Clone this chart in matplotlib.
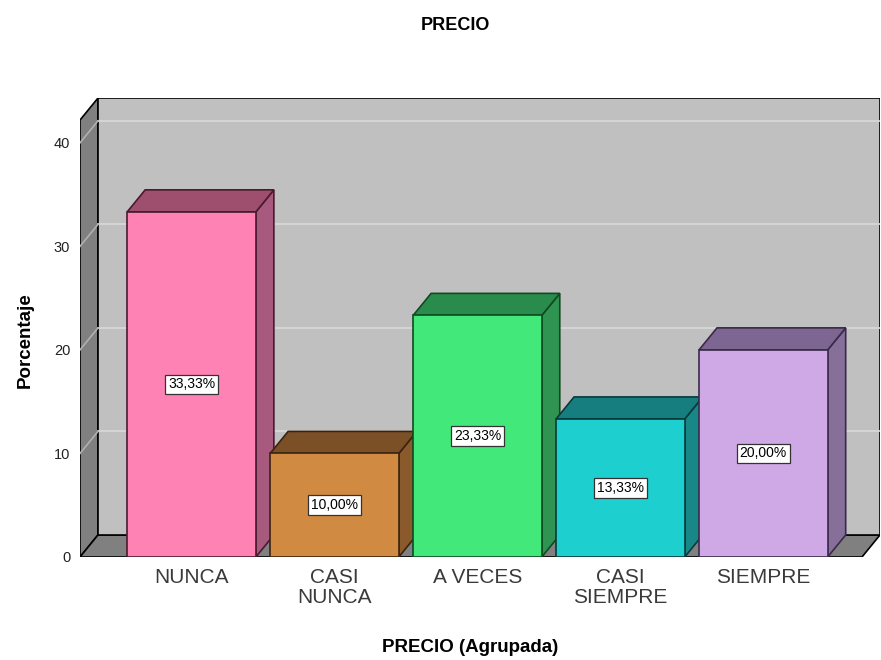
import matplotlib.pyplot as plt
from matplotlib.patches import Polygon

plt.rcParams['font.family'] = ['Liberation Sans', 'DejaVu Sans']

categories = ["NUNCA", "CASI\nNUNCA", "A VECES", "CASI\nSIEMPRE", "SIEMPRE"]
percentages = [33.33, 10.00, 23.33, 13.33, 20.00]
y_ticks = [0, 10, 20, 30, 40]

front_colors = ["#ff82b4", "#d08a42", "#42e87a", "#1ecfcf", "#cfa8e6"]
top_colors = ["#9e4f6d", "#7c5026", "#2a8c4c", "#167e7e", "#7e6692"]
side_colors = ["#a85a7e", "#8a5a2c", "#2f9352", "#188787", "#86709a"]
edge_colors = ["#4a1a30", "#3a2410", "#104a20", "#0a3a3a", "#3a2a4a"]

DX = 0.126   # depth offset in category units
DY = 2.13    # depth offset in value units
BAR_W = 0.9
X0, X1 = -0.78, 4.69
Y_TOP = 42.2


def draw_walls(ax):
    # left wall
    ax.add_patch(Polygon([(X0, 0), (X0, Y_TOP), (X0 + DX, Y_TOP + DY), (X0 + DX, DY)],
                         closed=True, fc="#808080", ec="black", lw=1.2, zorder=1))
    # floor
    ax.add_patch(Polygon([(X0, 0), (X1, 0), (X1 + DX, DY), (X0 + DX, DY)],
                         closed=True, fc="#808080", ec="black", lw=1.2, zorder=1))
    # back wall
    ax.add_patch(Polygon([(X0 + DX, DY), (X1 + DX, DY), (X1 + DX, Y_TOP + DY), (X0 + DX, Y_TOP + DY)],
                         closed=True, fc="#c0c0c0", ec="black", lw=1.2, zorder=1))
    for t in y_ticks[1:]:
        ax.plot([X0 + DX, X1 + DX], [t + DY, t + DY], color="#d9d9d9", lw=1.2, zorder=2)
        ax.plot([X0, X0 + DX], [t, t + DY], color="#b0b0b0", lw=1.2, zorder=2)


def draw_bars(ax):
    for i, v in enumerate(percentages):
        l, r = i - BAR_W / 2, i + BAR_W / 2
        z = 3 + i
        ec = edge_colors[i]
        ax.add_patch(Polygon([(r, 0), (r + DX, DY), (r + DX, v + DY), (r, v)],
                             closed=True, fc=side_colors[i], ec=ec, lw=1.2, zorder=z))
        ax.add_patch(Polygon([(l, v), (r, v), (r + DX, v + DY), (l + DX, v + DY)],
                             closed=True, fc=top_colors[i], ec=ec, lw=1.2, zorder=z))
        ax.add_patch(Polygon([(l, 0), (r, 0), (r, v), (l, v)],
                             closed=True, fc=front_colors[i], ec=ec, lw=1.2, zorder=z))
        ax.text(i, v / 2, f"{v:.2f}%".replace(".", ","), ha="center", va="center",
                fontsize=10, zorder=20,
                bbox=dict(boxstyle="square,pad=0.2", fc="white", ec="#333333", lw=0.9))


def main():
    fig = plt.figure(figsize=(8.81, 6.6), dpi=100)
    ax = fig.add_axes([80 / 881, 103 / 660, 800 / 881, 459 / 660])
    draw_walls(ax)
    draw_bars(ax)
    ax.set_xlim(X0, X1 + DX)
    ax.set_ylim(0, Y_TOP + DY)
    for s in ax.spines.values():
        s.set_visible(False)
    ax.set_yticks(y_ticks)
    ax.set_yticklabels([str(t) for t in y_ticks], fontsize=10.5, color="#222222")
    ax.set_xticks(range(len(categories)))
    ax.set_xticklabels(categories, fontsize=15, color="#3a3a3a", linespacing=1.05)
    ax.tick_params(axis="y", length=0, pad=7)
    ax.tick_params(axis="x", length=0, pad=8)
    fig.text(25 / 881, 1 - 340 / 660, "Porcentaje", ha="center", va="center",
             rotation=90, fontsize=13.5, fontweight="bold")
    fig.text(470 / 881, 1 - 647 / 660, "PRECIO (Agrupada)", ha="center", va="center",
             fontsize=13.5, fontweight="bold")
    fig.text(455 / 881, 1 - 25 / 660, "PRECIO", ha="center", va="center",
             fontsize=13, fontweight="bold")
    fig.savefig("out.png", dpi=100, facecolor="white")


if __name__ == "__main__":
    main()
